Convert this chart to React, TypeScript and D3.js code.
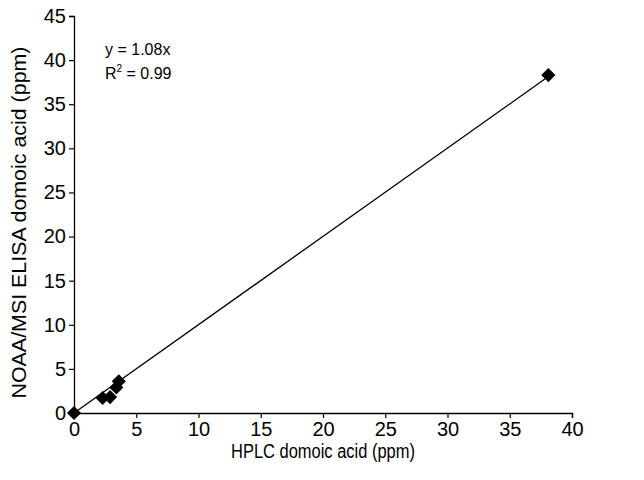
import React, { useEffect, useRef } from 'react';
import * as d3 from 'd3';

// HPLC (x) vs NOAA/MSI ELISA (y), ppm
const hplc = [0, 2.3, 2.9, 3.4, 3.6, 38.1];
const elisa = [0, 1.7, 1.8, 2.9, 3.6, 38.3];
const xTicks = [0, 5, 10, 15, 20, 25, 30, 35, 40];
const yTicks = [0, 5, 10, 15, 20, 25, 30, 35, 40, 45];
const equation = 'y = 1.08x';
const rSquared = '0.99';

const App: React.FC = () => {
  const ref = useRef<SVGSVGElement | null>(null);

  useEffect(() => {
    if (!ref.current) return;
    const W = 644, H = 480;
    const margin = { top: 16, right: 72, bottom: 67, left: 74 };
    const width = W - margin.left - margin.right;
    const height = H - margin.top - margin.bottom;

    const root = d3.select(ref.current);
    root.selectAll('*').remove();
    root.attr('width', W).attr('height', H);
    root.append('rect').attr('width', W).attr('height', H).attr('fill', '#fff');

    const svg = root.append('g').attr('transform', `translate(${margin.left},${margin.top})`);

    const x = d3.scaleLinear().domain([0, 40]).range([0, width]);
    const y = d3.scaleLinear().domain([0, 45]).range([height, 0]);

    const font = 'Arial, "Liberation Sans", sans-serif';

    const xAxis = svg.append('g')
      .attr('transform', `translate(0,${height})`)
      .call(d3.axisBottom(x).tickValues(xTicks).tickSize(5).tickPadding(4).tickFormat(d3.format('d')));
    const yAxis = svg.append('g')
      .call(d3.axisLeft(y).tickValues(yTicks).tickSize(5).tickPadding(3).tickFormat(d3.format('d')));

    [xAxis, yAxis].forEach(a => {
      a.select('.domain').attr('stroke', '#000').attr('stroke-width', 1.3);
      a.selectAll('.tick line').attr('stroke', '#000').attr('stroke-width', 1.2);
      a.selectAll('.tick text')
        .attr('fill', '#000')
        .style('font-family', font)
        .style('font-size', '20px');
    });

    // trendline through the origin (least squares)
    const k = d3.sum(hplc, (v, i) => v * elisa[i]) / d3.sum(hplc, v => v * v);
    const xMax = d3.max(hplc) as number;
    svg.append('line')
      .attr('x1', x(0)).attr('y1', y(0))
      .attr('x2', x(xMax)).attr('y2', y(k * xMax))
      .attr('stroke', '#000')
      .attr('stroke-width', 1.3);

    const pts = hplc.map((v, i) => ({ x: v, y: elisa[i] }));
    const diamond = d3.symbol().type(d3.symbolSquare).size(100);
    svg.selectAll('.pt')
      .data(pts)
      .enter().append('path')
      .attr('class', 'pt')
      .attr('d', diamond)
      .attr('transform', d => `translate(${x(d.x)},${y(d.y)}) rotate(45)`)
      .attr('fill', '#000');

    // equation text
    const eq = svg.append('g').style('font-family', font).style('font-size', '16px').attr('fill', '#000');
    eq.append('text').attr('x', 31).attr('y', 39).text(equation);
    const r2 = eq.append('text').attr('x', 31).attr('y', 63);
    r2.append('tspan').text('R');
    r2.append('tspan').attr('dy', -7).style('font-size', '10px').text('2');
    r2.append('tspan').attr('dy', 7).text(` = ${rSquared}`);

    // axis titles
    root.append('text')
      .attr('x', margin.left + width / 2)
      .attr('y', H - 22)
      .attr('text-anchor', 'middle')
      .attr('textLength', 184)
      .attr('lengthAdjust', 'spacingAndGlyphs')
      .style('font-family', font)
      .style('font-size', '20px')
      .text('HPLC domoic acid (ppm)');

    root.append('text')
      .attr('transform', `translate(26,${margin.top + height / 2 + 8}) rotate(-90)`)
      .attr('text-anchor', 'middle')
      .attr('textLength', 352)
      .attr('lengthAdjust', 'spacingAndGlyphs')
      .style('font-family', font)
      .style('font-size', '21px')
      .text('NOAA/MSI ELISA domoic acid (ppm)');
  }, []);

  return <svg ref={ref} style={{ position: 'absolute', left: 0, top: 0 }}></svg>;
};

export default App;
